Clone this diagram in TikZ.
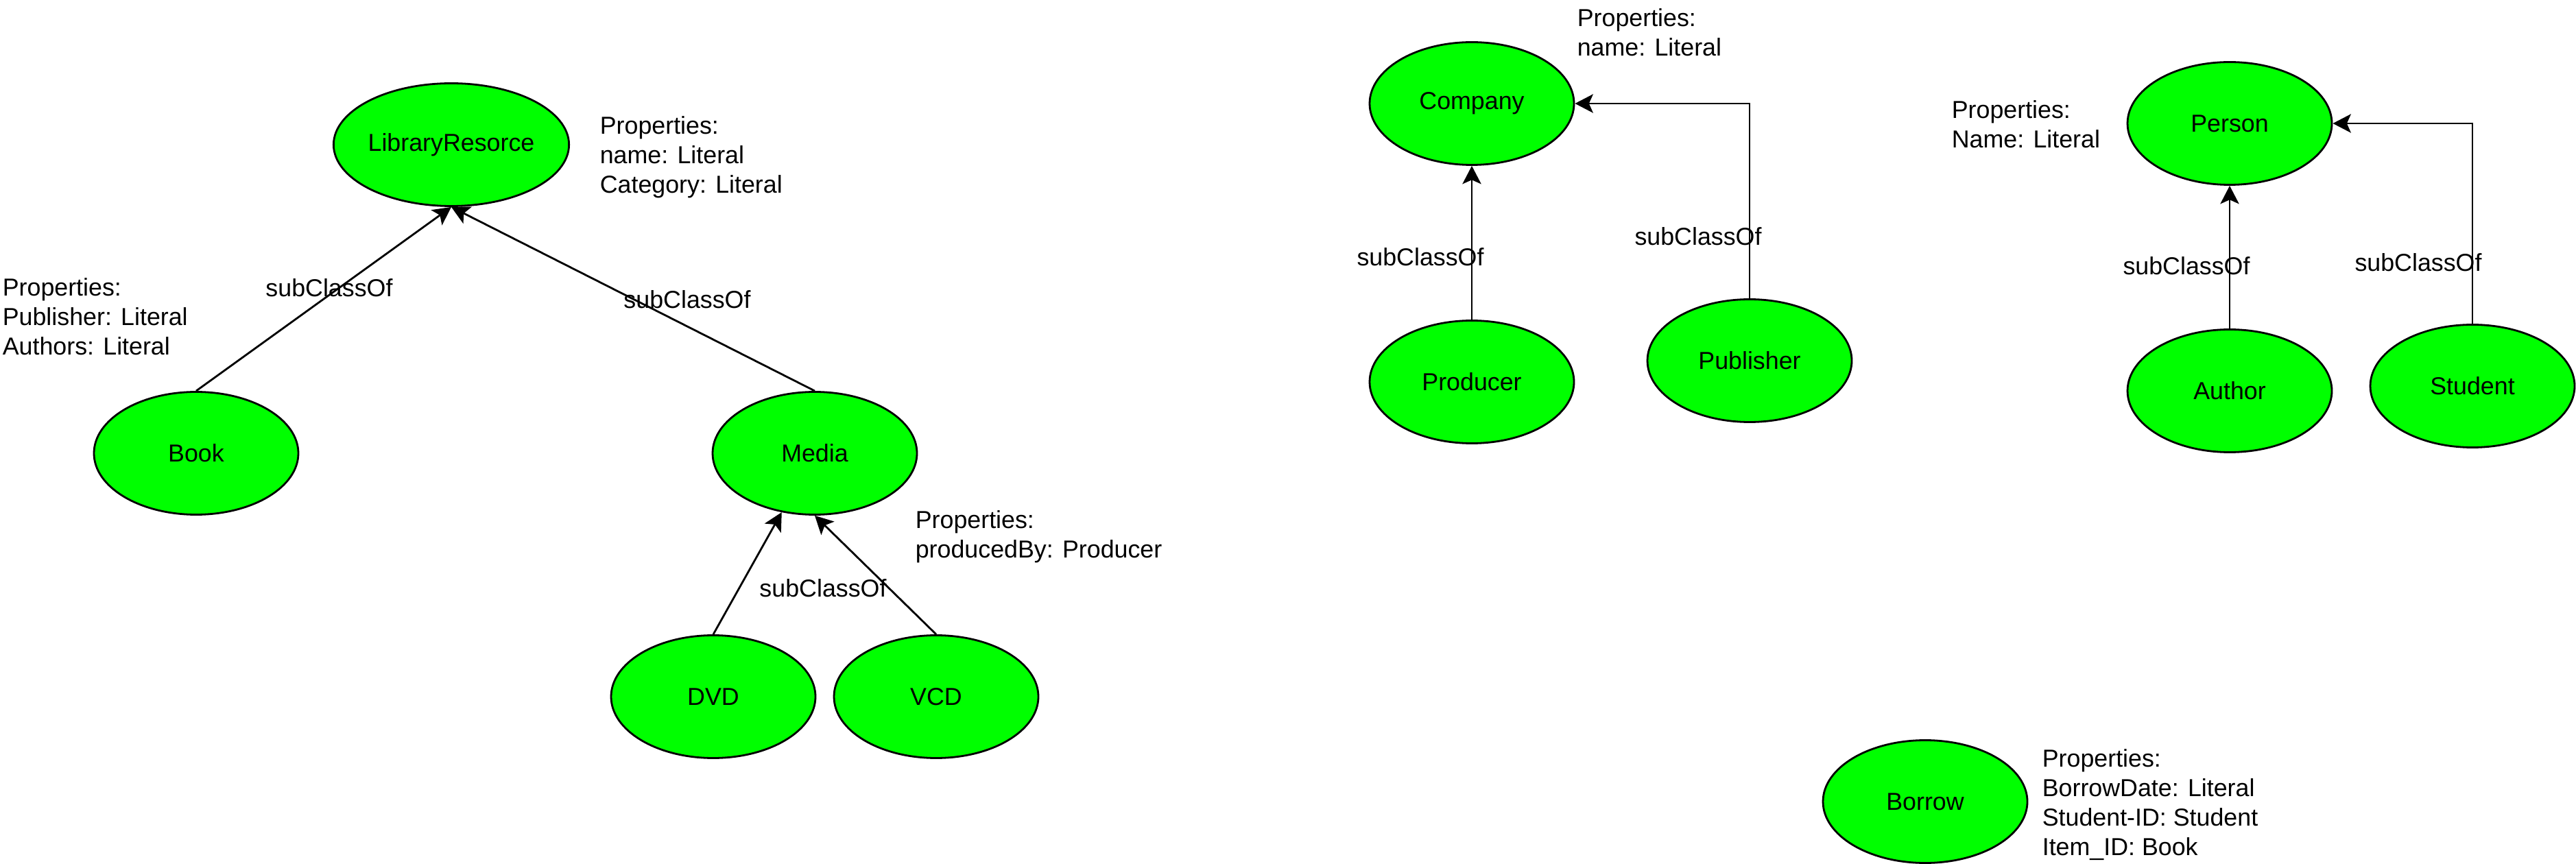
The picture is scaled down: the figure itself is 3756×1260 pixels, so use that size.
\documentclass[tikz,border=0pt]{standalone}
\usepackage{fontspec}
\setmainfont{Liberation Sans}
\usetikzlibrary{arrows.meta,shapes.geometric}
\definecolor{limefill}{HTML}{00FF00}
\begin{document}
\begin{tikzpicture}[x=0.25pt,y=-0.25pt,
  txt/.style={font=\fontsize{8.95}{10.75}\selectfont},
  cls/.style={ellipse, draw=black, line width=0.7pt, fill=limefill,
    minimum width=74.5pt, minimum height=44.75pt, inner sep=0pt, txt},
  props/.style={anchor=north west, align=left, inner sep=0pt, txt},
  lbl/.style={inner sep=0pt, txt},
  sub/.style={-{Stealth[length=6.6pt,width=6.8pt,inset=1.5pt]}, line width=0.7pt}
]
\useasboundingbox (0,0) rectangle (3756,1260);

% classes
\node[cls] (lib) at (658,211) {LibraryResorce};
\node[cls] (book) at (286,661) {Book};
\node[cls] (media) at (1188,661) {Media};
\node[cls] (dvd) at (1040,1016) {DVD};
\node[cls] (vcd) at (1365,1016) {VCD};
\node[cls] (company) at (2146,151) {Company};
\node[cls] (producer) at (2146,557) {Producer};
\node[cls] (publisher) at (2551,526) {Publisher};
\node[cls] (person) at (3251,180) {Person};
\node[cls] (author) at (3251,570) {Author};
\node[cls] (student) at (3605,563) {Student};
\node[cls] (borrow) at (2807,1169) {Borrow};

% connectors
\draw[sub] (book.north) -- (lib.south);
\draw[sub] (media.north) -- (lib.south);
\draw[sub] (dvd.north) -- (media);
\draw[sub] (vcd.north) -- (media.south);
\draw[sub] (producer.north) -- (company.south);
\draw[sub] (publisher.north) |- (company.east);
\draw[sub] (author.north) -- (person.south);
\draw[sub] (student.north) |- (person.east);

% connector labels
\node[lbl] (l1) at (480,420) {subClassOf};
\node[lbl] (l2) at (1002,437) {subClassOf};
\node[lbl] (l3) at (1200,858) {subClassOf};
\node[lbl] (l4) at (2071,375) {subClassOf};
\node[lbl] (l5) at (2476,345) {subClassOf};
\node[lbl] (l6) at (3188,388) {subClassOf};
\node[lbl] (l7) at (3526,383) {subClassOf};

% properties
\node[props] (plib) at (874,169) {Properties:\\name: Literal\\Category: Literal};
\node[props] (pbook) at (3,405) {Properties:\\Publisher: Literal\\Authors: Literal};
\node[props] (pmedia) at (1334,744) {Properties:\\producedBy: Producer};
\node[props] (pcompany) at (2299,12) {Properties:\\name: Literal};
\node[props] (pperson) at (2845,146) {Properties:\\Name: Literal};
\node[props] (pborrow) at (2977,1092) {Properties:\\BorrowDate: Literal\\Student-ID: Student\\Item\_ID: Book};
\end{tikzpicture}
\end{document}
